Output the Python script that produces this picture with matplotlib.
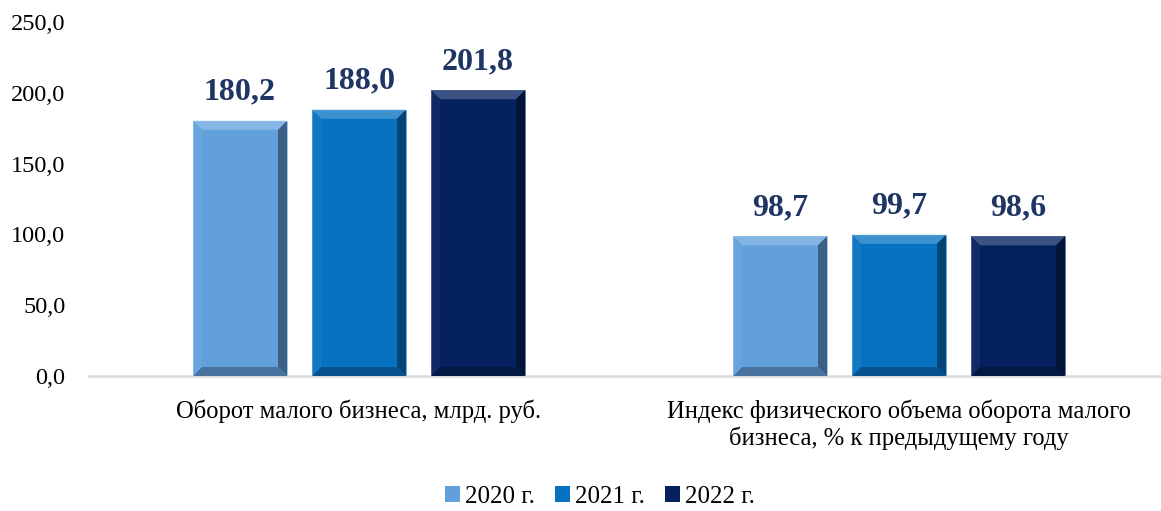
import matplotlib
matplotlib.use('Agg')
import matplotlib.pyplot as plt
from matplotlib.patches import Polygon
from matplotlib.colors import to_rgb
import numpy as np

categories = ['Оборот малого бизнеса, млрд. руб.',
              'Индекс физического объема оборота малого\nбизнеса, % к предыдущему году']
years = ['2020 г.', '2021 г.', '2022 г.']
v2020 = [180.2, 98.7]
v2021 = [188.0, 99.7]
v2022 = [201.8, 98.6]
colors = ['#62a0dc', '#0872c2', '#05215f']
label_color = '#1f3564'

plt.rcParams['font.family'] = ['Liberation Serif', 'DejaVu Serif']

W, H = 1161, 511
fig = plt.figure(figsize=(W / 100, H / 100), dpi=100)
ax_w = 1080
ax = fig.add_axes([89 / W, 135 / H, ax_w / W, 354 / H])
ax.set_xlim(-0.5, 1.5)
ax.set_ylim(0, 250)

x = np.arange(len(categories))
bw = 94 / 540
step = 119 / 540

px_x = 2.0 / ax_w          # data units per pixel, x
px_y = 250 / 354.0         # data units per pixel, y


def shade(c, f):
    r, g, b = to_rgb(c)
    if f >= 0:
        return (r + (1 - r) * f, g + (1 - g) * f, b + (1 - b) * f)
    return (r * (1 + f), g * (1 + f), b * (1 + f))


def bevel(bar, color):
    x0 = bar.get_x()
    w = bar.get_width()
    h = bar.get_height()
    dx = 9 * px_x
    dy = 9 * px_y
    x1 = x0 + w
    sides = [
        ([(x0, h), (x1, h), (x1 - dx, h - dy), (x0 + dx, h - dy)], shade(color, 0.22)),
        ([(x1, h), (x1, 0), (x1 - dx, dy), (x1 - dx, h - dy)], shade(color, -0.4)),
        ([(x0, 0), (x1, 0), (x1 - dx, dy), (x0 + dx, dy)], shade(color, -0.28)),
        ([(x0, 0), (x0, h), (x0 + dx, h - dy), (x0 + dx, dy)], shade(color, 0.04)),
    ]
    for pts, c in sides:
        ax.add_patch(Polygon(pts, closed=True, facecolor=c, edgecolor='none', zorder=3))
    ax.add_patch(plt.Rectangle((x0, 0), w, h, facecolor='none',
                               edgecolor=shade(color, 0.3), linewidth=0.6, zorder=4))


series = [v2020, v2021, v2022]
handles = []
for i, vals in enumerate(series):
    bars = ax.bar(x + (i - 1) * step, vals, bw, color=colors[i], zorder=2, label=years[i])
    handles.append(bars)
    for b, v in zip(bars, vals):
        bevel(b, colors[i])
        ax.text(b.get_x() + b.get_width() / 2, v + 14 * px_y, f'{v:.1f}'.replace('.', ','),
                ha='center', va='bottom', fontsize=23, fontweight='bold', color=label_color)

ax.set_yticks([0, 50, 100, 150, 200, 250])
ax.set_yticklabels([f'{t:.1f}'.replace('.', ',') for t in [0, 50, 100, 150, 200, 250]],
                   fontsize=17.5)
ax.tick_params(axis='y', length=0, pad=17)
ax.set_xticks(x)
ax.set_xticklabels(categories, fontsize=17.7, linespacing=1.2, va='top')
ax.tick_params(axis='x', length=0, pad=17)

for s in ['top', 'right', 'left']:
    ax.spines[s].set_visible(False)
ax.spines['bottom'].set_color('#d9d9d9')
ax.spines['bottom'].set_linewidth(1.8)

fig.legend(handles=handles, labels=years, loc='center', bbox_to_anchor=(600 / W, 1 - 497 / H),
           ncol=3, frameon=False, fontsize=18, handlelength=0.6, handleheight=0.6,
           handletextpad=0.2, columnspacing=0.8)

fig.savefig('out.png', dpi=100)
